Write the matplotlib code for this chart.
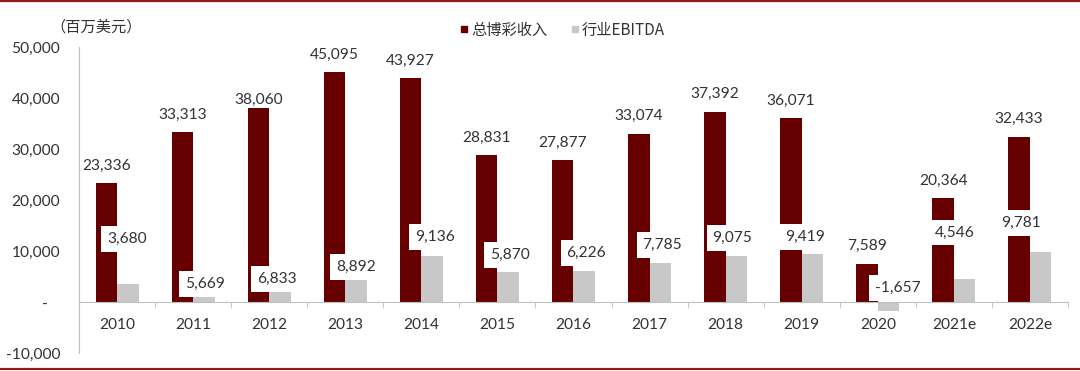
import matplotlib
matplotlib.use("Agg")
import matplotlib.pyplot as plt
from matplotlib.lines import Line2D
from matplotlib.ticker import FixedLocator, FuncFormatter

plt.rcParams['font.family'] = ['Lato', 'Noto Sans CJK SC', 'DejaVu Sans']

# ---------------- data ----------------
years = ["2010", "2011", "2012", "2013", "2014", "2015", "2016",
         "2017", "2018", "2019", "2020", "2021e", "2022e"]
revenue = [23336, 33313, 38060, 45095, 43927, 28831, 27877,
           33074, 37392, 36071, 7589, 20364, 32433]
# bar heights as drawn in the picture
ebitda_bars = [3680, 1150, 2100, 4600, 9136, 5870, 6226,
               7785, 9075, 9419, -1657, 4546, 9781]
# label texts shown in the picture
ebitda_labels = ["3,680", "5,669", "6,833", "8,892", "9,136", "5,870", "6,226",
                 "7,785", "9,075", "9,419", "-1,657", "4,546", "9,781"]
series_names = ["总博彩收入", "行业EBITDA"]
unit_label = "（百万美元）"
yticks = [-10000, 0, 10000, 20000, 30000, 40000, 50000]

# ---------------- layout (label placements) ----------------
rev_label_off_pt = [12.7, 12.7, 5.8, 12.7, 12.7, 12.7, 12.7,
                    12.7, 12.7, 12.7, 12.7, 12.7, 12.7]
ebitda_label_y = [12350, 3590, 4510, 6980, 12750, 9270, 9730,
                  11240, 12550, 12860, 2750, 13690, 15550]
ebitda_label_dx_px = [-1, 1, -3, 0, 3, 2, 2, 2, -4, -7, 9, -10, -20]

RED = "#660000"
GRAY = "#C8C8C8"
FRAME = "#8B1C1C"
TXT = "#333333"
AX = "#BFBFBF"
FS = 11.2

fig = plt.figure(figsize=(10.8, 3.71), dpi=100)
ax = fig.add_axes([0.07315, 0.0477, 0.9157, 0.8248])

x = list(range(len(years)))
w = 0.283
xr = [i - w / 2 for i in x]
xg = [i + w / 2 for i in x]
ax.bar(xr, revenue, width=w, color=RED, zorder=2)
ax.bar(xg, ebitda_bars, width=w, color=GRAY, zorder=2)

ax.set_xlim(-0.5, len(years) - 0.5)
ax.set_ylim(-10000, 50000)

# revenue labels
for xi, v, off in zip(xr, revenue, rev_label_off_pt):
    ax.annotate(f"{v:,}", xy=(xi, v), xytext=(0, off), textcoords="offset points",
                ha="center", va="center", fontsize=FS, color=TXT, zorder=5)

# EBITDA labels with white boxes
for xi, lab, ly, dx in zip(xg, ebitda_labels, ebitda_label_y, ebitda_label_dx_px):
    ax.annotate(lab, xy=(xi, ly), xytext=(dx * 0.72, 0), textcoords="offset points",
                ha="center", va="center", fontsize=FS, color=TXT, zorder=6,
                bbox=dict(boxstyle="square,pad=0.38", fc="white", ec="none"))

# axes styling
for s in ["top", "right"]:
    ax.spines[s].set_visible(False)
ax.spines["bottom"].set_position(("data", 0))
ax.spines["bottom"].set_color(AX)
ax.spines["left"].set_color(AX)
ax.spines["bottom"].set_zorder(3)

ax.set_xticks(x)
ax.set_xticklabels(years)
ax.xaxis.set_minor_locator(FixedLocator([i - 0.5 for i in range(len(years) + 1)]))
ax.tick_params(axis="x", which="major", length=0, pad=11.5, labelsize=FS, labelcolor=TXT)
ax.tick_params(axis="x", which="minor", length=4, color=AX, direction="out")

ax.set_yticks(yticks)
ax.yaxis.set_major_formatter(FuncFormatter(lambda v, p: "-   " if v == 0 else f"{int(v):,}"))
ax.tick_params(axis="y", length=0, pad=13.5, labelsize=FS, labelcolor=TXT)

# legend
handles = [Line2D([], [], marker="s", linestyle="none", markersize=5,
                  markerfacecolor=RED, markeredgecolor=RED),
           Line2D([], [], marker="s", linestyle="none", markersize=5,
                  markerfacecolor=GRAY, markeredgecolor=GRAY)]
fig.legend(handles, series_names, loc="center", bbox_to_anchor=(0.52, 0.919),
           ncol=2, frameon=False, handletextpad=0.05, columnspacing=1.4,
           handlelength=0.8, prop={"family": ["Noto Sans CJK SC"], "size": 11},
           labelcolor=TXT)

fig.text(0.047, 0.927, unit_label, ha="left", va="center", fontsize=11,
         family=["Noto Sans CJK SC"], color=TXT)

# frame lines at top and bottom
fig.add_artist(Line2D([0, 1], [0.998, 0.998], transform=fig.transFigure,
                      color=FRAME, linewidth=1.6))
fig.add_artist(Line2D([0, 1], [0.006, 0.006], transform=fig.transFigure,
                      color=FRAME, linewidth=1.6))

fig.savefig("out.png", dpi=100)
